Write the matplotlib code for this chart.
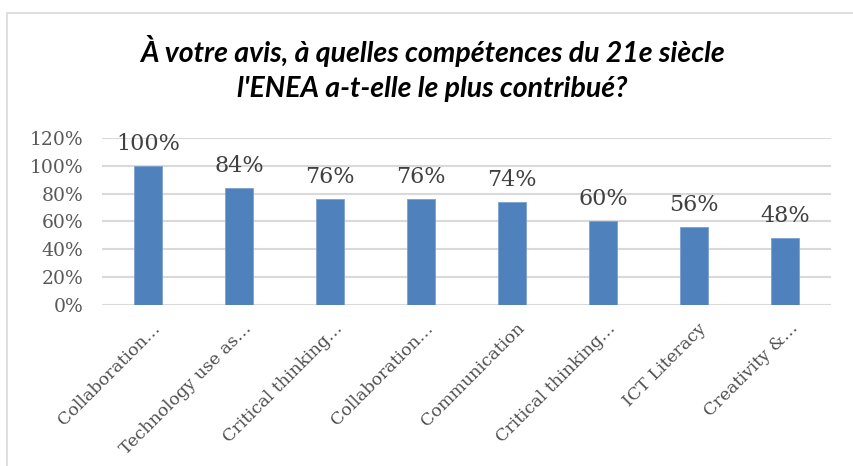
import matplotlib.pyplot as plt
import matplotlib.patches as mpatches
from matplotlib.transforms import ScaledTranslation

categories = ['Collaboration…', 'Technology use as…', 'Critical thinking…',
              'Collaboration…', 'Communication', 'Critical thinking…',
              'ICT Literacy', 'Creativity &…']
values = [100, 84, 76, 76, 74, 60, 56, 48]
yticks = [0, 20, 40, 60, 80, 100, 120]

title = "À votre avis, à quelles compétences du 21e siècle\nl'ENEA a-t-elle le plus contribué?"

fig = plt.figure(figsize=(8.54, 4.66), dpi=100)
ax = fig.add_axes([0.12, 0.3455, 0.8525, 0.3584])

# outer chart frame
fig.patches.append(mpatches.Rectangle((7 / 854, -0.1), 1.2, 1 - 13 / 466 + 0.1,
                                      transform=fig.transFigure, fill=False,
                                      edgecolor='#D9D9D9', lw=1.2))

x = range(len(values))
ax.bar(x, values, width=0.31, color='#4F81BD', edgecolor='#7DA0CF', lw=0.6, zorder=3)
for i, v in enumerate(values):
    ax.annotate(f'{v}%', (i, v), xytext=(0, 8), textcoords='offset points',
                ha='center', va='bottom', fontsize=16, color='#404040',
                family='DejaVu Serif')

ax.set_xlim(-0.5, len(values) - 0.5)
ax.set_ylim(0, 120)
ax.set_yticks(yticks)
ax.set_yticklabels([f'{t}%' for t in yticks], family='DejaVu Serif',
                   fontsize=13.5, color='#595959')
ax.yaxis.grid(True, color='#D9D9D9', lw=1.5, zorder=0)
ax.tick_params(axis='both', length=0)
ax.tick_params(axis='y', pad=14)
for s in ax.spines.values():
    s.set_visible(False)

ax.set_xticks(list(x))
ax.set_xticklabels(categories, rotation=45, ha='right', va='top',
                   rotation_mode='anchor', family='DejaVu Serif',
                   fontsize=12.5, color='#505050')
off = ScaledTranslation(4 / 100, -10 / 100, fig.dpi_scale_trans)
for lbl in ax.get_xticklabels():
    lbl.set_transform(lbl.get_transform() + off)

fig.text(0.506, 0.853, title, ha='center', va='center', fontsize=20.5,
         fontweight='bold', style='italic', family=['Lato', 'DejaVu Sans'],
         linespacing=1.4, color='black')

fig.savefig('out.png', dpi=100)
